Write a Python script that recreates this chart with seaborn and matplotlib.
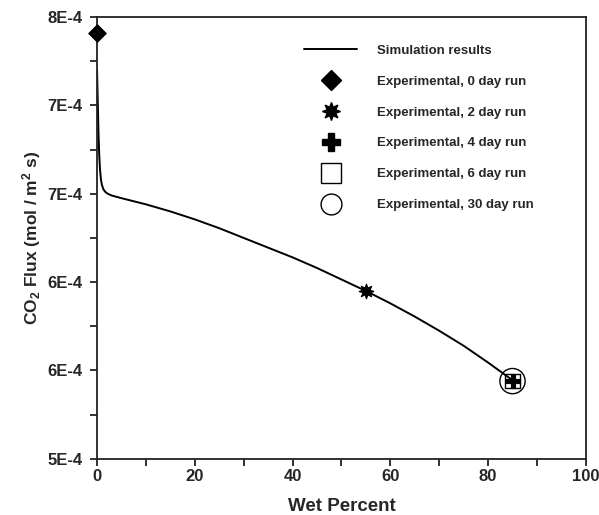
import matplotlib
matplotlib.use("Agg")
import matplotlib.pyplot as plt
from matplotlib.lines import Line2D
from matplotlib.ticker import FixedLocator
import seaborn as sns
import pandas as pd

# ---- data ----
sim_x = [0, 0.1, 0.2, 0.3, 0.45, 0.6, 0.8, 1.0, 1.3, 1.7, 2.2, 3, 5, 10, 15, 20, 25, 30, 35, 40,
         45, 50, 55, 60, 65, 70, 75, 80, 85]
sim_y = [7.70e-4, 7.58e-4, 7.46e-4, 7.34e-4, 7.22e-4, 7.14e-4, 7.08e-4, 7.05e-4, 7.025e-4,
         7.01e-4, 7.0e-4, 6.99e-4, 6.975e-4, 6.94e-4, 6.90e-4, 6.855e-4, 6.805e-4, 6.75e-4,
         6.695e-4, 6.64e-4, 6.58e-4, 6.515e-4, 6.45e-4, 6.38e-4, 6.305e-4, 6.225e-4,
         6.14e-4, 6.045e-4, 5.945e-4]

exp_labels = ["Experimental, 0 day run", "Experimental, 2 day run", "Experimental, 4 day run",
              "Experimental, 6 day run", "Experimental, 30 day run"]
exp_x = [0, 55, 85, 85, 85]
exp_y = [7.91e-4, 6.45e-4, 5.94e-4, 5.94e-4, 5.94e-4]

x_ticks = [0, 20, 40, 60, 80, 100]
y_ticks = [5.5e-4, 6.0e-4, 6.5e-4, 7.0e-4, 7.5e-4, 8.0e-4]
y_ticklabels = ["5E-4", "6E-4", "6E-4", "7E-4", "7E-4", "8E-4"]

# ---- style ----
sns.set_style("ticks")
plt.rcParams['font.family'] = ['Liberation Sans', 'DejaVu Sans']
plt.rcParams['font.weight'] = 'bold'
plt.rcParams['mathtext.fontset'] = 'custom'
plt.rcParams['mathtext.rm'] = 'Liberation Sans:bold'
plt.rcParams['mathtext.bf'] = 'Liberation Sans:bold'
plt.rcParams['mathtext.it'] = 'Liberation Sans:bold'

ink = '#222222'
fig = plt.figure(figsize=(5.99, 5.15), dpi=100)
ax = fig.add_axes([0.162, 0.109, 0.816, 0.858])

sim = pd.DataFrame({"x": sim_x, "y": sim_y})
sns.lineplot(data=sim, x="x", y="y", ax=ax, color='black', linewidth=1.4, zorder=2)

styles = [
    dict(marker='D', s=80, color='black', edgecolor='black'),
    dict(marker=(8, 1, 0), s=110, color='black', edgecolor='black'),
    dict(marker='P', s=110, color='black', edgecolor='black'),
    dict(marker='s', s=110, facecolor='none', edgecolor='black', linewidth=1.0),
    dict(marker='o', s=330, facecolor='none', edgecolor='black', linewidth=1.0),
]
for xi, yi, st in zip(exp_x, exp_y, styles):
    sns.scatterplot(x=[xi], y=[yi], ax=ax, zorder=3, clip_on=False, **st)

ax.set_xlim(0, 100)
ax.set_ylim(5.5e-4, 8.0e-4)
ax.set_xticks(x_ticks)
ax.set_xticklabels([str(t) for t in x_ticks])
ax.xaxis.set_minor_locator(FixedLocator([10, 30, 50, 70, 90]))
ax.set_yticks(y_ticks)
ax.set_yticklabels(y_ticklabels)
ax.yaxis.set_minor_locator(FixedLocator([5.75e-4, 6.25e-4, 6.75e-4, 7.25e-4, 7.75e-4]))

ax.tick_params(which='both', direction='out', length=5, width=1.3, color=ink,
               labelsize=12, top=False, right=False)
ax.tick_params(axis='x', which='both', pad=2.5)
ax.tick_params(axis='y', which='both', pad=5.5)
for lab in ax.get_xticklabels() + ax.get_yticklabels():
    lab.set_fontweight('bold')
for sp in ax.spines.values():
    sp.set_color(ink)
    sp.set_linewidth(1.3)

ax.set_xlabel("Wet Percent", fontsize=13.5, fontweight='bold', labelpad=10)
ax.set_ylabel(r"CO$_\mathbf{2}$ Flux (mol / m$^\mathbf{2}$ s)", fontsize=12.5,
              fontweight='bold', labelpad=3)

handles = [Line2D([], [], color='black', linewidth=1.4)]
leg_styles = [
    dict(marker='D', markersize=10, color='black', mfc='black', mec='black'),
    dict(marker=(8, 1, 0), markersize=13, color='black', mfc='black', mec='black'),
    dict(marker='P', markersize=13, color='black', mfc='black', mec='black'),
    dict(marker='s', markersize=15, color='black', mfc='none', mec='black', mew=1.0),
    dict(marker='o', markersize=15, color='black', mfc='none', mec='black', mew=1.0),
]
for st in leg_styles:
    handles.append(Line2D([], [], linestyle='none', **st))
labels = ["Simulation results"] + exp_labels
leg = ax.legend(handles, labels, loc='upper left', bbox_to_anchor=(0.40, 0.965),
                frameon=False, labelspacing=1.42, handlelength=4.0,
                handletextpad=1.5, prop={'weight': 'bold', 'size': 9.5})

fig.savefig("out.png", dpi=100)
